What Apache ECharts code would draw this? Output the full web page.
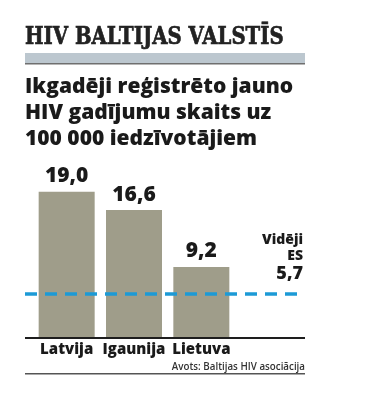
<!DOCTYPE html>
<html>
<head>
<meta charset="utf-8">
<script src="https://cdn.jsdelivr.net/npm/echarts@6/dist/echarts.min.js"></script>
<style>
html,body{margin:0;padding:0;background:#fff;}
#c{width:375px;height:396px;}
</style>
</head>
<body>
<div id="c"></div>
<script>
var categories = ['Latvija', 'Igaunija', 'Lietuva'];
var values = [19.0, 16.6, 9.2];
var euAverage = 5.7;
var titleText = 'HIV BALTIJAS VALSTĪS';
var subtitleText = 'Ikgadēji reģistrēto jauno\nHIV gadījumu skaits uz\n100 000 iedzīvotājiem';
var avgLabel = ['Vidēji', 'ES'];
var sourceText = 'Avots: Baltijas HIV asociācija';

function fmt(v) { return v.toFixed(1).replace('.', ','); }

var chart = echarts.init(document.getElementById('c'), null, {renderer: 'canvas'});
var SANS = '"Open Sans", "Noto Sans", sans-serif';

chart.setOption({
  animation: false,
  backgroundColor: '#ffffff',
  grid: {left: 33, right: 140, top: 184, bottom: 58.5, containLabel: false},
  xAxis: {
    type: 'category',
    data: categories,
    axisLine: {show: false},
    axisTick: {show: false},
    axisLabel: {
      interval: 0, hideOverlap: false,
      fontFamily: SANS, fontWeight: 800, fontSize: 15, color: '#1a1a1a', margin: 5
    }
  },
  yAxis: {
    type: 'value', min: 0, max: 20, interval: 5,
    show: false
  },
  series: [{
    type: 'bar',
    data: values,
    barWidth: 56,
    itemStyle: {color: '#9f9d8a'},
    label: {
      show: true, position: 'top', distance: 5,
      fontFamily: SANS, fontWeight: 800, fontSize: 21, color: '#1a1a1a',
      formatter: function (p) { return fmt(p.value); }
    },
    markLine: {
      silent: true,
      symbol: ['none', 'none'],
      animation: false,
      data: [
        [
          {x: 25, yAxis: euAverage, lineStyle: {color: '#1c9ad6', width: 3.5, type: [12, 8]},
           label: {
             show: true, position: 'insideEndTop', distance: [2, 10],
             formatter: '{a|' + avgLabel[0] + '}\n{a|' + avgLabel[1] + '}\n{b|' + fmt(euAverage) + '}',
             align: 'right',
             rich: {
               a: {fontFamily: SANS, fontWeight: 800, fontSize: 14, lineHeight: 16, color: '#1a1a1a', align: 'right'},
               b: {fontFamily: SANS, fontWeight: 800, fontSize: 18, lineHeight: 20, color: '#1a1a1a', align: 'right'}
             }
           }},
          {x: 305, yAxis: euAverage}
        ],
        [
          {x: 25, yAxis: 0, lineStyle: {color: '#1e1e1e', width: 2, type: 'solid'}, label: {show: false}},
          {x: 305, yAxis: 0}
        ]
      ]
    }
  }],
  graphic: [
    {type: 'text', x: 25, y: 37.5, scaleX: 0.82,
     style: {text: titleText, fontFamily: '"DejaVu Serif", serif', fontWeight: 'bold', fontSize: 24,
             fill: '#222', stroke: '#222', lineWidth: 0.7, align: 'left', verticalAlign: 'middle'}},
    {type: 'rect', shape: {x: 25, y: 53, width: 280, height: 10}, style: {fill: '#bcc7cf'}},
    {type: 'rect', shape: {x: 25, y: 63, width: 280, height: 1.5}, style: {fill: '#6f6f6f'}},
    {type: 'text', x: 25, y: 73.5, scaleX: 1,
     style: {text: subtitleText, fontFamily: SANS, fontWeight: 800, fontSize: 21, lineHeight: 26.3,
             fill: '#1a1a1a', align: 'left', verticalAlign: 'top'}},
    {type: 'text', x: 305, y: 367, scaleX: 0.85,
     style: {text: sourceText, fontFamily: SANS, fontWeight: 600, fontSize: 11.5, fill: '#333', align: 'right', verticalAlign: 'middle'}},
    {type: 'rect', shape: {x: 25, y: 373, width: 280, height: 1.5}, style: {fill: '#555'}}
  ]
});
</script>
</body>
</html>
